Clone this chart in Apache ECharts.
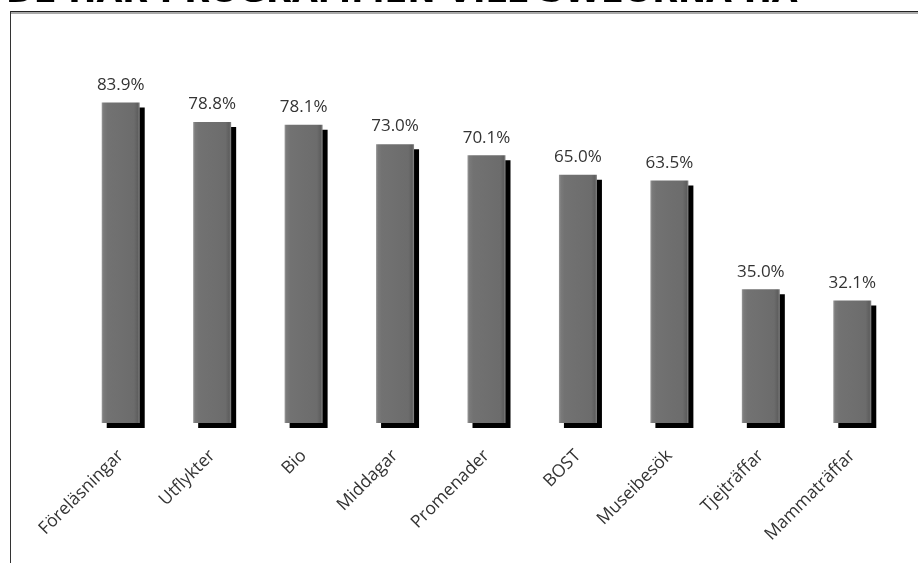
<!DOCTYPE html>
<html>
<head>
<meta charset="utf-8">
<script src="https://cdn.jsdelivr.net/npm/echarts@6/dist/echarts.min.js"></script>
<style>
    html, body { margin: 0; padding: 0; background: #fff; }
    #chart { width: 918px; height: 563px; }
</style>
</head>
<body>
<div id="chart"></div>
<script>
// Chart data
const titleText = 'DE HÄR PROGRAMMEN VILL SWEORNA HA';
const categories = ['Föreläsningar', 'Utflykter', 'Bio', 'Middagar', 'Promenader', 'BOST', 'Museibesök', 'Tjejträffar', 'Mammaträffar'];
const shares = [83.9, 78.8, 78.1, 73.0, 70.1, 65.0, 63.5, 35.0, 32.1];

document.addEventListener('DOMContentLoaded', function() {
    const myChart = echarts.init(document.getElementById('chart'));

    // bevelled grey look: light left edge, darker right edge
    const barFill = new echarts.graphic.LinearGradient(0, 0, 1, 0, [
        { offset: 0, color: '#9a9a9a' },
        { offset: 0.05, color: '#7a7a7a' },
        { offset: 0.15, color: '#727272' },
        { offset: 0.85, color: '#6c6c6c' },
        { offset: 0.95, color: '#5e5e5e' },
        { offset: 1, color: '#8a8a8a' }
    ]);

    const option = {
        animation: false,
        grid: {
            left: 75,
            right: 20,
            top: 41,
            bottom: 140
        },
        xAxis: {
            type: 'category',
            data: categories,
            axisLine: { show: false },
            axisTick: { show: false },
            axisLabel: {
                rotate: 45,
                margin: 30,
                color: '#333',
                fontSize: 17.5,
                fontFamily: 'Open Sans'
            }
        },
        yAxis: {
            type: 'value',
            min: 0,
            max: 100,
            show: false
        },
        series: [{
            type: 'bar',
            data: shares,
            barWidth: 38,
            itemStyle: {
                color: barFill,
                shadowColor: '#000',
                shadowOffsetX: 5,
                shadowOffsetY: 5,
                shadowBlur: 0
            },
            label: {
                show: true,
                position: 'top',
                distance: 9,
                color: '#333',
                fontSize: 17,
                fontFamily: 'Open Sans',
                formatter: p => p.value.toFixed(1) + '%'
            }
        }],
        graphic: [
            {
                type: 'text',
                left: 6,
                top: -24,
                style: {
                    text: titleText,
                    fontSize: 33.5,
                    fontWeight: 'bold',
                    fontFamily: 'DejaVu Sans',
                    fill: '#000'
                }
            },
            {
                type: 'line',
                shape: { x1: 10, y1: 11.5, x2: 918, y2: 11.5 },
                style: { stroke: '#222', lineWidth: 1 }
            },
            {
                type: 'line',
                shape: { x1: 10, y1: 13, x2: 918, y2: 13 },
                style: { stroke: '#aaa', lineWidth: 2 }
            },
            {
                type: 'line',
                shape: { x1: 10.5, y1: 11, x2: 10.5, y2: 563 },
                style: { stroke: '#333', lineWidth: 1 }
            }
        ]
    };

    myChart.setOption(option);
});
</script>
</body>
</html>
